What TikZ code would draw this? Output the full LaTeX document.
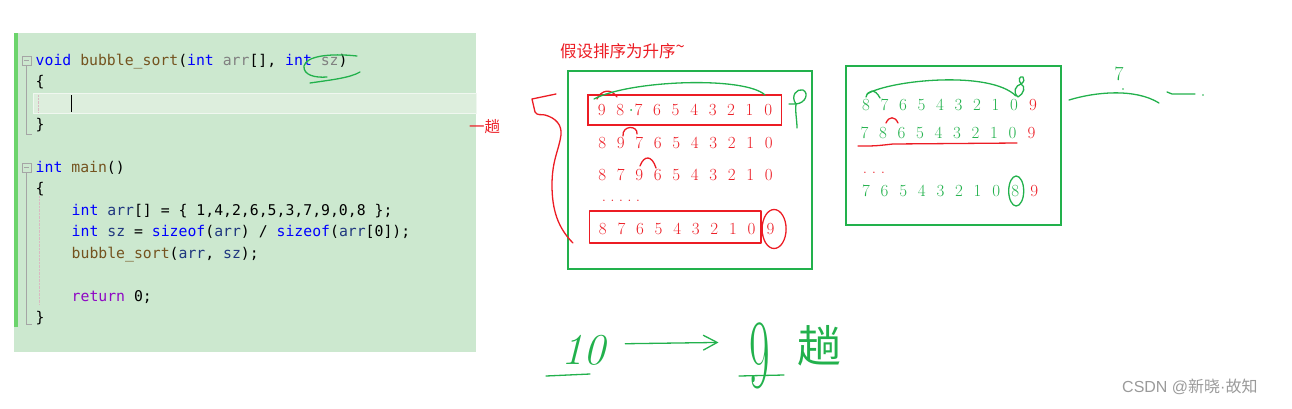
\documentclass[tikz,border=0pt]{standalone}
\usepackage{fontspec}
\usepackage{xcolor}
\usetikzlibrary{positioning, arrows.meta, shapes, fit}

\newfontfamily\codefont{DejaVu Sans Mono}
\newfontfamily\cjkfont{Noto Sans CJK SC}
\newfontfamily\latinfont{Liberation Sans}

\definecolor{panelgreen}{HTML}{CCE8CF}
\definecolor{linegreen}{HTML}{DDEEDD}
\definecolor{bargreen}{HTML}{6CD46C}
\definecolor{kwblue}{HTML}{0000FF}
\definecolor{fnbrown}{HTML}{74531F}
\definecolor{pargray}{HTML}{808080}
\definecolor{varblue}{HTML}{1F377F}
\definecolor{retpurple}{HTML}{8F08C4}
\definecolor{guidegray}{HTML}{A5A5A5}
\definecolor{dotpink}{HTML}{D9B9C2}
\definecolor{inkred}{HTML}{EC1C24}
\definecolor{inkgreen}{HTML}{22B14C}
\definecolor{markgray}{HTML}{9A9A9A}

\newcommand{\ckw}[1]{\textcolor{kwblue}{#1}}
\newcommand{\cfn}[1]{\textcolor{fnbrown}{#1}}
\newcommand{\cpar}[1]{\textcolor{pargray}{#1}}
\newcommand{\cvar}[1]{\textcolor{varblue}{#1}}
\newcommand{\cret}[1]{\textcolor{retpurple}{#1}}
\newcommand{\digitrow}[2][18.5pt]{\foreach \dg in {#2}{\makebox[#1]{\dg}}}

\begin{document}
\begin{tikzpicture}[
x=1pt, y=-1pt,
codeline/.style={
anchor=base west,
inner sep=0pt,
font=\codefont\fontsize{14.8}{14.8}\selectfont
},
digits/.style={
inner sep=0pt,
text=inkred,
font=\fontsize{17}{17}\selectfont
},
redpen/.style={draw=inkred, line width=1.3pt, line cap=round, line join=round},
greenpen/.style={draw=inkgreen, line width=1.3pt, line cap=round, line join=round},
greenframe/.style={draw=inkgreen, line width=1.6pt},
redframe/.style={draw=inkred, line width=1.5pt, inner sep=0pt},
handnum/.style={inner sep=0pt, text=inkgreen},
handarrow/.style={
greenpen,
-{Straight Barb[length=14pt, width=15pt, line width=1.3pt]}
},
titletext/.style={anchor=west, inner sep=0pt, text=inkred, font=\cjkfont\fontsize{16.5}{16.5}\selectfont},
watermark/.style={anchor=west, inner sep=0pt, text=markgray, font=\cjkfont\fontsize{16}{16}\selectfont}
]
\useasboundingbox (0,0) rectangle (1292,408);

% code panel
\fill[panelgreen] (14,33) rectangle (476,352);
\fill[bargreen] (14,33) rectangle (18,327);
\filldraw[fill=linegreen, draw=white!55!linegreen] (33,93) rectangle (476,113);
\draw[guidegray] (22,56) rectangle (31,65);
\draw[guidegray] (24,60.5) -- (29,60.5);
\draw[guidegray] (26.5,66) -- (26.5,134) -- (32,134);
\draw[guidegray] (22,163) rectangle (31,172);
\draw[guidegray] (24,167.5) -- (29,167.5);
\draw[guidegray] (26.5,173) -- (26.5,324) -- (32,324);
\draw[dotpink, densely dotted] (38,95) -- (38,112);
\draw[dotpink, densely dotted] (39,196) -- (39,304);
\draw[black, line width=1pt] (71,95) -- (71,112);

\node[codeline] (l1) at (35.5,65) {\ckw{void} \cfn{bubble\_sort}(\ckw{int} \cpar{arr}[], \ckw{int} \cpar{sz})};
\node[codeline] (l2) at (35.5,86.5) {\{};
\node[codeline] (l4) at (35.5,129.4) {\}};
\node[codeline] (l6) at (35.5,172.3) {\ckw{int} \cfn{main}()};
\node[codeline] (l7) at (35.5,193.7) {\{};
\node[codeline] (l8) at (71.5,215.2) {\ckw{int} \cvar{arr}[] = \{ 1,4,2,6,5,3,7,9,0,8 \};};
\node[codeline] (l9) at (71.5,236.6) {\ckw{int} \cvar{sz} = \ckw{sizeof}(\cvar{arr}) / \ckw{sizeof}(\cvar{arr}[0]);};
\node[codeline] (l10) at (71.5,258.1) {\cfn{bubble\_sort}(\cvar{arr}, \cvar{sz});};
\node[codeline] (l12) at (71.5,301) {\cret{return} 0;};
\node[codeline] (l13) at (35.5,322.4) {\}};

% marks on the code
\draw[greenpen] (357,56) .. controls (330,53) and (306,56) .. (304,66) .. controls (303,75) and (315,78) .. (327,77);
\draw[greenpen] (310,83) .. controls (330,80) and (350,78) .. (360,72);
\node[anchor=west, inner sep=0pt, text=inkred, font=\cjkfont\fontsize{15.5}{15.5}\selectfont] (onepass) at (469,127) {一趟};

% first pass
\node[titletext] (title) at (560,51) {假设排序为升序\raisebox{5pt}{\textasciitilde}};
\draw[greenframe] (568,71) rectangle (812,269);
\node[digits] (m1) at (684.9,110) {\digitrow{9,8,7,6,5,4,3,2,1,0}};
\node[digits] (m2) at (685.5,142.5) {\digitrow{8,9,7,6,5,4,3,2,1,0}};
\node[digits] (m3) at (685.5,175) {\digitrow{8,7,9,6,5,4,3,2,1,0}};
\node[digits] (mdots) at (621,201) {\digitrow[8.5pt]{.,.,.,.,.}};
\node[digits] (m4) at (677.2,229) {\digitrow[18.6pt]{8,7,6,5,4,3,2,1,0}};
\node[digits, right=0pt of m4] (m4nine) {\makebox[18.6pt]{9}};

\node[redframe, fit=(m1), inner xsep=4pt, inner ysep=9pt] (m1frame) {};
\draw[redpen] ([xshift=-4pt, yshift=-8pt]m4.south west) rectangle ([yshift=12pt]m4.north east);
\draw[redpen] ([xshift=3.5pt]m4nine.center) ellipse [x radius=12pt, y radius=19.5pt];
\fill[inkgreen] (631,110) circle (1pt);
\draw[redpen] (597,99) .. controls (601,90) and (611,88) .. (617,97);
\draw[greenpen] (594,99) .. controls (630,80) and (745,76) .. (765,95);
\draw[redpen] (623,136) .. controls (622,125) and (638,125) .. (637,134);
\draw[redpen] (640,166) .. controls (644,155) and (652,155) .. (656,168);
\draw[greenpen] (796,104) .. controls (790,96) and (797,88) .. (803,90) .. controls (809,93) and (806,103) .. (796,104) -- (789,104);
\draw[greenpen] (796,104) .. controls (795,112) and (797,120) .. (797,128);
\draw[redpen] (556,94) -- (532,99) -- (535,112) .. controls (537,116) and (542,114) .. (545,115) .. controls (556,118) and (562,125) .. (561,135) .. controls (559,150) and (552,160) .. (552,185) .. controls (552,210) and (558,228) .. (573,243);

% next pass
\draw[greenframe] (846,66) rectangle (1061,225);
\node[digits, text=inkgreen] (n1) at (940,105) {\digitrow{8,7,6,5,4,3,2,1,0}};
\node[digits, right=0pt of n1] (n1nine) {\makebox[18.5pt]{9}};
\node[digits, text=inkgreen] (n2) at (938.5,133) {\digitrow{7,8,6,5,4,3,2,1,0}};
\node[digits, right=0pt of n2] (n2nine) {\makebox[18.5pt]{9}};
\node[digits] (ndots) at (874,173) {\digitrow[9pt]{.,.,.}};
\node[digits, text=inkgreen] (n3) at (931.1,191) {\digitrow[18.6pt]{7,6,5,4,3,2,1,0}};
\node[digits, text=inkgreen, right=0pt of n3] (n3eight) {\makebox[18.6pt]{8}};
\node[digits, right=0pt of n3eight] (n3nine) {\makebox[18.6pt]{9}};

\draw[greenpen] ([xshift=1pt]n3eight.center) ellipse [x radius=7.5pt, y radius=15pt];
\draw[greenpen] (866,97) .. controls (868,90) and (875,88) .. (880,98);
\draw[greenpen] (867,94) .. controls (890,80) and (990,70) .. (1016,96);
\draw[greenpen] (1018,97) .. controls (1012,92) and (1016,85) .. (1021,84) .. controls (1026,86) and (1024,94) .. (1018,97);
\draw[greenpen] (1021,84) .. controls (1018,80) and (1019,76) .. (1023,77) .. controls (1025,79) and (1024,82) .. (1021,84);
\draw[redpen] (886,123) .. controls (889,116) and (895,116) .. (898,123);
\draw[redpen] (858,146) .. controls (875,146) .. (893,144) -- (1017,143);

\node[handnum, font=\fontsize{20}{20}\selectfont] (seven) at (1119,74) {7};
\draw[greenpen] (1069,100) .. controls (1095,92) and (1135,88) .. (1159,103);
\fill[inkgreen] (1123,89) circle (0.9pt);
\draw[greenpen] (1167,92) -- (1172,94) -- (1195,94);
\fill[inkgreen] (1203,95) circle (0.9pt);

% passes count
\node[handnum, font=\itshape\fontsize{44}{44}\selectfont] (ten) at (583,350) {10};
\node[handnum, font=\fontsize{56}{56}\selectfont] (nine) at (760,356) {\scalebox{0.8}[1.75]{9}};
\node[handnum, font=\cjkfont\fontsize{44}{44}\selectfont] (pass) at (819,346) {趟};
\draw[greenpen] (546,376) -- (590,374);
\draw[greenpen] (739,376) -- (784,375);
\draw[handarrow, shorten <=20pt, shorten >=31pt] ([yshift=6pt]ten.east) -- ([yshift=14pt]nine.west);

\node[watermark] (credit) at (1122,387) {{\latinfont CSDN @}新晓{\latinfont ·}故知};

\end{tikzpicture}
\end{document}
